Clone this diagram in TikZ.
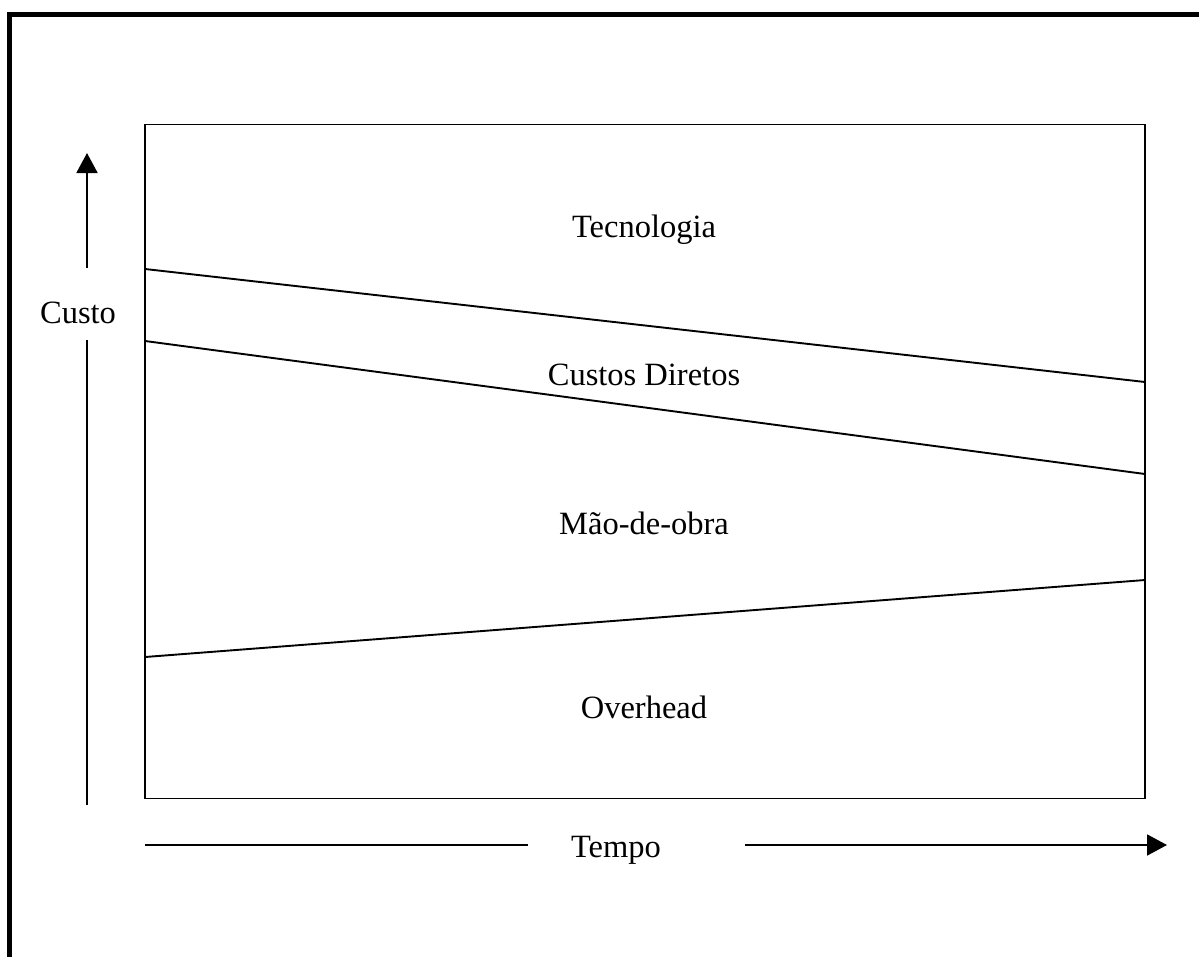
\documentclass[tikz,border=0pt]{standalone}
\usepackage{fontspec}
\setmainfont{Liberation Serif}
\usetikzlibrary{arrows.meta,positioning}

\begin{document}
\begin{tikzpicture}[x=1pt,y=-1pt,font=\fontsize{32.5}{38}\selectfont,
	thin line/.style={line width=1.9pt},
	axis tip/.style={-{Triangle[length=20pt,width=21pt]},line width=1.9pt}]
	\useasboundingbox (0,0) rectangle (1199,956);
	\clip (0,0) rectangle (1199,956);
	% outer frame (cut off on the right and at the bottom)
	\draw[line width=4.8pt] (9.5,14.5) rectangle (1240,1000);
	% chart area
	\coordinate (TL) at (145,124.5);
	\coordinate (BR) at (1145,798.5);
	\draw[thin line] (TL) rectangle (BR);
	\foreach \l/\r [count=\n] in {269/382,341/474,657/580}
		\draw[thin line] (145,\l) coordinate (L\n) -- (1145,\r) coordinate (R\n);
	% areas
	\node[anchor=base] (tec) at (644,237) {Tecnologia};
	\node[anchor=base] (dir) at (644,385) {Custos Diretos};
	\node[anchor=base] (mao) at (644,534) {Mão-de-obra};
	\node[anchor=base] (ovh) at (644,718) {Overhead};
	% axes
	\node[anchor=base] (custo) at (78,323) {Custo};
	\node[anchor=base] (tempo) at (616,857) {Tempo};
	\coordinate (ybot) at (87,805);
	\coordinate (ytop) at (87,153);
	\coordinate (xleft) at (145,845);
	\coordinate (xright) at (1167,845);
	\draw[thin line] (ybot) -- (87,340);
	\draw[axis tip] (87,268) -- (ytop);
	\draw[thin line] (xleft) -- (528,845);
	\draw[axis tip] (745,845) -- (xright);
\end{tikzpicture}
\end{document}
